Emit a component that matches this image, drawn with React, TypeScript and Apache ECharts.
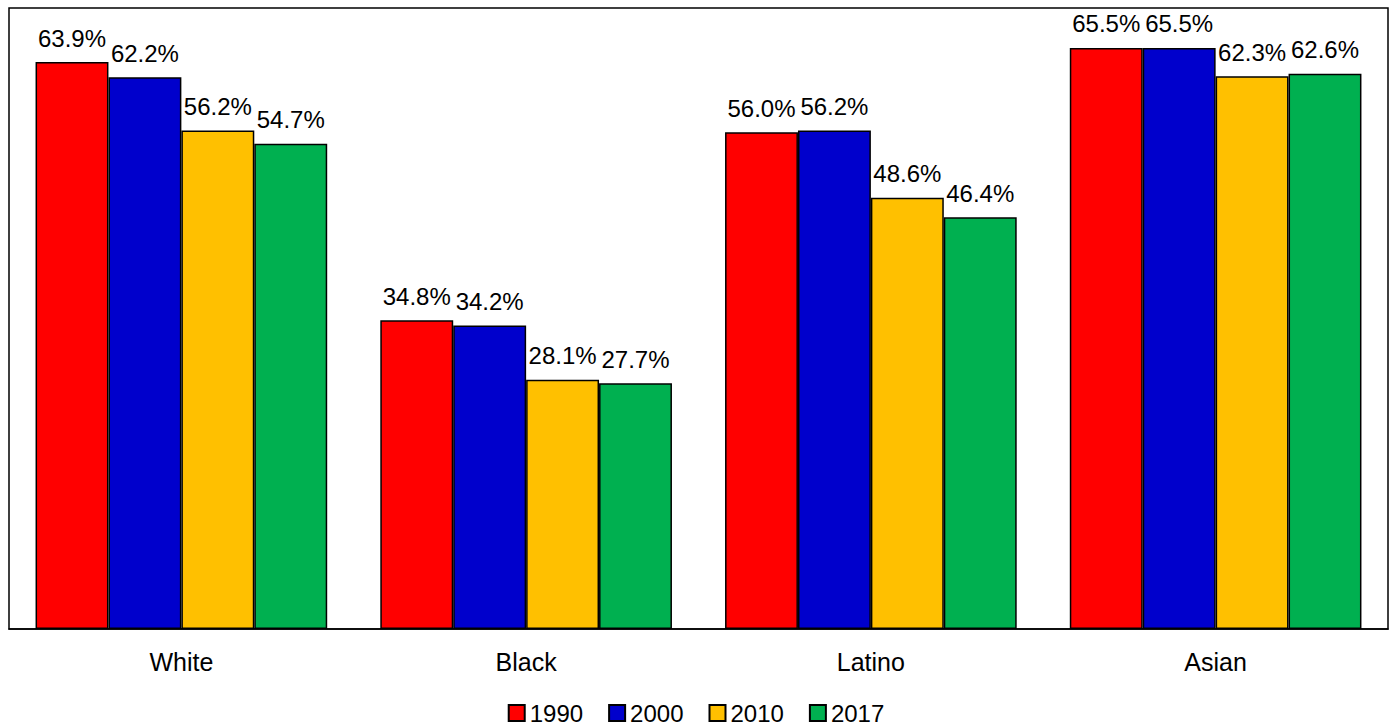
import React, { useEffect, useRef } from "react";
import * as echarts from "echarts";

const categories = ["White", "Black", "Latino", "Asian"];
const years = ["1990", "2000", "2010", "2017"];
const v1990 = [63.9, 34.8, 56.0, 65.5];
const v2000 = [62.2, 34.2, 56.2, 65.5];
const v2010 = [56.2, 28.1, 48.6, 62.3];
const v2017 = [54.7, 27.7, 46.4, 62.6];
const colors = ["#FF0000", "#0000CC", "#FFC000", "#00B050"];

export default function App() {
  const ref = useRef<HTMLDivElement>(null);
  useEffect(() => {
    const chart = echarts.init(ref.current!, null, { renderer: "svg" });
    const seriesData = [v1990, v2000, v2010, v2017];
    const ff = "'Liberation Sans', Arial, sans-serif";
    chart.setOption({
      animation: false,
      textStyle: { fontFamily: ff },
      grid: {
        left: 9,
        right: 4,
        top: 8,
        bottom: 97,
        show: true,
        borderColor: "#000",
        borderWidth: 1.5,
        containLabel: false,
      },
      legend: {
        top: 701,
        left: "center",
        padding: 0,
        itemWidth: 16,
        itemHeight: 16,
        itemGap: 25,
        icon: "rect",
        textStyle: { fontSize: 24, color: "#000", fontFamily: ff },
        data: years,
      },
      xAxis: {
        type: "category",
        data: categories,
        axisLine: { lineStyle: { color: "#000", width: 1.5 } },
        axisTick: { show: false },
        axisLabel: { fontSize: 25, color: "#000", margin: 20, fontFamily: ff },
      },
      yAxis: {
        type: "value",
        min: 0,
        max: 70,
        show: false,
        splitLine: { show: false },
      },
      series: years.map((y, i) => ({
        name: y,
        type: "bar",
        data: seriesData[i],
        barGap: "0%",
        barCategoryGap: "15.4%",
        itemStyle: { color: colors[i], borderColor: "#000", borderWidth: 1.5 },
        label: {
          show: true,
          position: "top",
          distance: 12,
          fontSize: 24,
          color: "#000",
          fontFamily: ff,
          formatter: (p: any) => p.value.toFixed(1) + "%",
        },
      })),
    });
    return () => chart.dispose();
  }, []);
  return <div ref={ref} style={{ width: 1392, height: 726, position: "absolute", left: 0, top: 0 }} />;
}
